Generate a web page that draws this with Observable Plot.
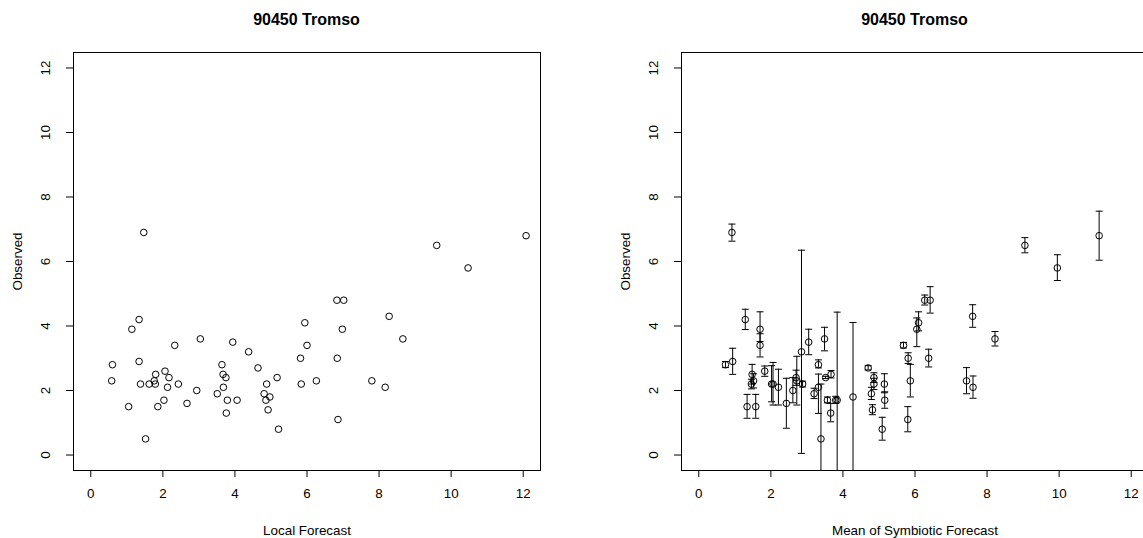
<!DOCTYPE html>
<html><head><meta charset="utf-8">
<script src="https://cdn.jsdelivr.net/npm/d3@7"></script>
<script src="https://cdn.jsdelivr.net/npm/@observablehq/plot@0.6"></script>
<style>
body{margin:0;background:#fff;}
#wrap{position:relative;width:1143px;height:538px;overflow:hidden;font-family:"Liberation Sans",Arial,sans-serif;background:#fff;}
.panel{position:absolute;top:0;width:571px;height:538px;}
.title{position:absolute;top:11px;left:73px;width:467px;text-align:center;font-weight:bold;font-size:16px;line-height:18px;color:#000;}
</style></head>
<body><div id="wrap"></div>
<script>
const titleText = "90450 Tromso";
const xTicks = [0, 2, 4, 6, 8, 10, 12];
const yTicks = [0, 2, 4, 6, 8, 10, 12];

// Left panel: Local Forecast vs Observed
const localX = [1.47, 9.60, 10.47, 12.08, 6.83, 7.02, 8.28, 5.94, 6.98, 8.66, 6.00, 1.34, 1.14, 2.33, 3.04, 3.94, 4.38, 5.82, 6.84, 0.60,
  1.34, 3.64, 4.64, 0.58, 1.38, 1.62, 1.80, 1.76, 1.79, 2.06, 2.17, 2.13, 2.43, 2.94, 2.67, 2.03, 1.86, 1.05, 1.52, 3.51,
  3.67, 3.75, 3.68, 3.79, 4.06, 3.76, 4.88, 5.17, 4.81, 4.86, 4.97, 4.92, 5.21, 5.84, 6.26, 6.86, 7.80, 8.17];
const localObs = [6.9, 6.5, 5.8, 6.8, 4.8, 4.8, 4.3, 4.1, 3.9, 3.6, 3.4, 4.2, 3.9, 3.4, 3.6, 3.5, 3.2, 3.0, 3.0, 2.8,
  2.9, 2.8, 2.7, 2.3, 2.2, 2.2, 2.5, 2.3, 2.2, 2.6, 2.4, 2.1, 2.2, 2.0, 1.6, 1.7, 1.5, 1.5, 0.5, 1.9,
  2.5, 2.4, 2.1, 1.7, 1.7, 1.3, 2.2, 2.4, 1.9, 1.7, 1.8, 1.4, 0.8, 2.2, 2.3, 1.1, 2.3, 2.1];

// Right panel: Mean of Symbiotic Forecast vs Observed, with error bars
const symX = [0.92, 11.11, 9.05, 9.95, 6.27, 6.42, 7.60, 1.29, 6.10, 1.70, 6.05, 3.49, 8.22, 3.05, 1.70, 5.68, 2.85, 5.81, 6.38, 0.94,
  0.74, 3.32, 4.70, 1.83, 1.48, 3.67, 2.70, 3.52, 4.86, 1.52, 2.72, 5.87, 7.43, 1.46, 2.02, 2.06, 2.88, 4.86, 5.15, 2.21,
  3.32, 7.61, 2.61, 3.20, 4.79, 4.28, 3.57, 3.80, 3.84, 5.16, 2.43, 1.34, 1.58, 4.82, 3.66, 5.80, 5.09, 3.39];
const symObs = [6.9, 6.8, 6.5, 5.8, 4.8, 4.8, 4.3, 4.2, 4.1, 3.9, 3.9, 3.6, 3.6, 3.5, 3.4, 3.4, 3.2, 3.0, 3.0, 2.9,
  2.8, 2.8, 2.7, 2.6, 2.5, 2.5, 2.4, 2.4, 2.4, 2.3, 2.3, 2.3, 2.3, 2.2, 2.2, 2.2, 2.2, 2.2, 2.2, 2.1,
  2.1, 2.1, 2.0, 1.9, 1.9, 1.8, 1.7, 1.7, 1.7, 1.7, 1.6, 1.5, 1.5, 1.4, 1.3, 1.1, 0.8, 0.5];
const symLo = [6.63, 6.04, 6.27, 5.41, 4.65, 4.40, 3.96, 3.89, 3.85, 3.52, 3.36, 3.23, 3.38, 3.11, 3.04, 3.32, 0.05, 2.84, 2.73, 2.50,
  2.71, 2.70, 2.64, 2.44, 2.20, 2.39, 2.16, 2.37, 2.25, 2.08, 1.55, 1.80, 1.90, 2.05, 1.65, 1.55, 2.11, 2.03, 1.93, 1.55,
  1.29, 1.76, 1.62, 1.75, 1.72, -0.52, 1.62, 1.60, -1.03, 1.45, 0.83, 1.14, 1.14, 1.25, 1.03, 0.72, 0.46, -1.20];
const symHi = [7.16, 7.56, 6.74, 6.21, 4.96, 5.22, 4.66, 4.52, 4.44, 4.44, 4.25, 3.96, 3.83, 3.90, 3.76, 3.49, 6.35, 3.17, 3.28, 3.31,
  2.90, 2.95, 2.77, 2.76, 2.81, 2.62, 2.63, 2.44, 2.55, 2.52, 3.06, 2.81, 2.71, 2.35, 2.77, 2.87, 2.29, 2.38, 2.52, 2.66,
  2.51, 2.45, 2.40, 2.07, 2.10, 4.11, 1.80, 1.82, 4.43, 1.96, 2.38, 1.88, 1.88, 1.56, 1.60, 1.50, 1.17, 2.20];

const localData = localX.map((x, i) => ({x, y: localObs[i]}));
const symData = symX.map((x, i) => ({x, y: symObs[i], lo: symLo[i], hi: symHi[i]}));

const capSymbol = {
  draw(context, size) {
    const w = Math.sqrt(size / Math.PI);
    context.moveTo(-w, 0);
    context.lineTo(w, 0);
  }
};

function makePanel(xLabel, marks) {
  return Plot.plot({
    width: 571,
    height: 538,
    marginLeft: 73,
    marginRight: 31,
    marginTop: 52,
    marginBottom: 68,
    style: {fontFamily: "'Liberation Sans', Arial, sans-serif", fontSize: "13.4px", background: "white", color: "black", overflow: "visible"},
    x: {domain: [-0.48, 12.48]},
    y: {domain: [-0.48, 12.48]},
    marks: [
      Plot.frame({stroke: "black", strokeWidth: 1}),
      Plot.axisX({ticks: xTicks, tickSize: 7, tickPadding: 11, label: xLabel, labelAnchor: "center", labelArrow: "none", labelOffset: 64, tickFormat: d => String(d)}),
      Plot.axisY({ticks: yTicks, tickSize: 7, tickPadding: 17, tickRotate: -90, label: "Observed", labelAnchor: "center", labelArrow: "none", labelOffset: 61, tickFormat: d => String(d)}),
      ...marks
    ]
  });
}

const left = makePanel("Local Forecast", [
  Plot.dot(localData, {x: "x", y: "y", r: 3.3, stroke: "black", fill: "none", strokeWidth: 1})
]);
const right = makePanel("Mean of Symbiotic Forecast", [
  Plot.dot(symData, {x: "x", y: "y", r: 3.3, stroke: "black", fill: "none", strokeWidth: 1}),
  Plot.ruleX(symData, {x: "x", y1: "lo", y2: "hi", stroke: "black", strokeWidth: 1, clip: true}),
  Plot.dot(symData, {x: "x", y: "lo", symbol: capSymbol, r: 3.5, stroke: "black", strokeWidth: 1, clip: true}),
  Plot.dot(symData, {x: "x", y: "hi", symbol: capSymbol, r: 3.5, stroke: "black", strokeWidth: 1, clip: true})
]);

const wrap = document.getElementById("wrap");
[[left, 0], [right, 608]].forEach(([svg, off]) => {
  const p = document.createElement("div");
  p.className = "panel";
  p.style.left = off + "px";
  p.appendChild(svg);
  const t = document.createElement("div");
  t.className = "title";
  t.textContent = titleText;
  p.appendChild(t);
  wrap.appendChild(p);
});
</script>
</body></html>
